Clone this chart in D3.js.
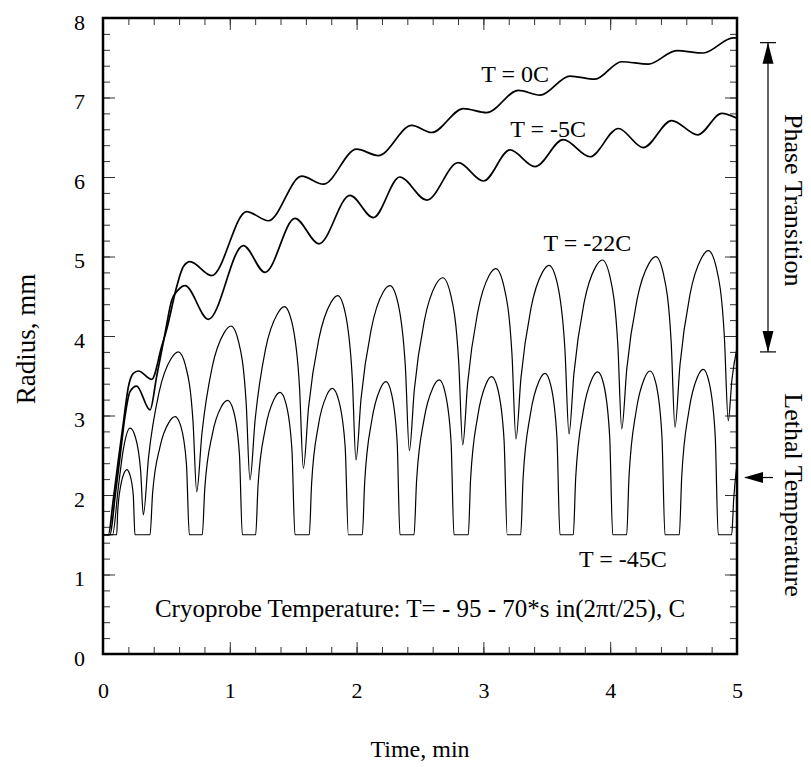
<!DOCTYPE html>
<html>
<head>
<meta charset="utf-8">
<script src="https://cdn.jsdelivr.net/npm/d3@7"></script>
<style>
  body { margin: 0; background: #fff; }
  svg text { font-family: "Liberation Serif", "Times New Roman", serif; fill: #000; }
</style>
</head>
<body>
<svg id="chart" width="811" height="767"></svg>
<script>
// Radio del frente de congelamiento vs tiempo, para 4 temperaturas

// [tiempo (min), radio (mm)]
const curve0C = [
  [0, 1.5], [0.042, 1.5], [0.081, 1.94], [0.121, 2.44], [0.16, 2.9], [0.2, 3.36], [0.239, 3.53], [0.279, 3.56],
  [0.384, 3.455], [0.463, 3.87], [0.502, 4.08], [0.581, 4.62], [0.633, 4.87], [0.686, 4.935], [0.857, 4.76],
  [1.133, 5.565], [1.304, 5.45], [1.567, 6.01], [1.737, 5.91], [2.0, 6.35], [2.171, 6.27], [2.435, 6.65],
  [2.592, 6.56], [2.842, 6.86], [3.026, 6.81], [3.276, 7.09], [3.446, 7.03], [3.683, 7.27], [3.88, 7.23],
  [4.09, 7.45], [4.3, 7.42], [4.524, 7.59], [4.734, 7.56], [4.97, 7.75], [5.0, 7.75]
];

const curve5C = [
  [0, 1.5], [0.055, 1.5], [0.095, 1.98], [0.134, 2.48], [0.173, 2.985], [0.213, 3.3], [0.265, 3.37],
  [0.371, 3.07], [0.423, 3.49], [0.489, 4.03], [0.542, 4.45], [0.594, 4.58], [0.647, 4.633], [0.831, 4.21],
  [1.107, 5.137], [1.278, 4.8], [1.514, 5.48], [1.703, 5.16], [1.948, 5.77], [2.132, 5.49], [2.34, 6.0],
  [2.553, 5.71], [2.802, 6.18], [3.0, 5.95], [3.21, 6.34], [3.407, 6.13], [3.63, 6.47], [3.84, 6.255],
  [4.064, 6.61], [4.261, 6.37], [4.485, 6.71], [4.69, 6.53], [4.879, 6.8], [5.0, 6.74]
];

const curve22C = [
  [0, 1.5], [0.075, 1.5], [0.121, 2.1], [0.16, 2.57], [0.213, 2.84], [0.255, 2.73], [0.297, 2.3], [0.318, 1.75],
  [0.359, 2.47], [0.442, 3.29], [0.539, 3.72], [0.594, 3.8], [0.652, 3.62], [0.71, 2.92], [0.739, 2.04],
  [0.78, 2.77], [0.861, 3.61], [0.955, 4.04], [1.009, 4.126], [1.069, 3.93], [1.129, 3.16], [1.159, 2.19],
  [1.2, 2.95], [1.281, 3.83], [1.376, 4.28], [1.43, 4.37], [1.49, 4.17], [1.55, 3.35], [1.58, 2.336],
  [1.621, 3.1], [1.702, 3.96], [1.797, 4.42], [1.851, 4.507], [1.909, 4.3], [1.966, 3.47], [1.995, 2.44],
  [2.035, 3.21], [2.116, 4.09], [2.209, 4.55], [2.263, 4.633], [2.324, 4.43], [2.385, 3.6], [2.416, 2.557],
  [2.455, 3.32], [2.534, 4.19], [2.626, 4.65], [2.679, 4.733], [2.742, 4.52], [2.805, 3.68], [2.837, 2.629],
  [2.876, 3.41], [2.954, 4.29], [3.045, 4.76], [3.097, 4.847], [3.161, 4.63], [3.225, 3.78], [3.257, 2.704],
  [3.296, 3.47], [3.374, 4.34], [3.465, 4.8], [3.517, 4.889], [3.58, 4.68], [3.643, 3.83], [3.675, 2.767],
  [3.714, 3.53], [3.793, 4.41], [3.885, 4.87], [3.938, 4.956], [3.999, 4.74], [4.06, 3.89], [4.091, 2.83],
  [4.131, 3.59], [4.212, 4.46], [4.305, 4.91], [4.359, 4.998], [4.42, 4.78], [4.481, 3.92], [4.511, 2.85],
  [4.55, 3.63], [4.629, 4.52], [4.72, 4.98], [4.774, 5.073], [4.837, 4.86], [4.9, 4.0], [4.931, 2.935],
  [4.96, 3.45], [5.0, 3.85]
];

const curve45C = [
  [0, 1.5], [0.108, 1.5], [0.116, 1.79], [0.14, 2.12], [0.167, 2.28], [0.187, 2.32], [0.213, 2.25], [0.239, 1.99], [0.252, 1.5],
  [0.371, 1.5], [0.391, 2.02], [0.45, 2.61], [0.519, 2.91], [0.568, 2.985], [0.613, 2.87], [0.658, 2.39], [0.681, 1.5],
  [0.783, 1.5], [0.803, 2.09], [0.863, 2.77], [0.933, 3.11], [0.983, 3.19], [1.029, 3.06], [1.076, 2.51], [1.099, 1.5],
  [1.204, 1.5], [1.223, 2.13], [1.281, 2.84], [1.348, 3.2], [1.396, 3.29], [1.443, 3.15], [1.49, 2.57], [1.514, 1.5],
  [1.627, 1.5], [1.645, 2.14], [1.699, 2.88], [1.763, 3.25], [1.808, 3.34], [1.859, 3.19], [1.91, 2.6], [1.935, 1.5],
  [2.045, 1.5], [2.064, 2.17], [2.12, 2.94], [2.185, 3.33], [2.232, 3.425], [2.276, 3.27], [2.32, 2.66], [2.342, 1.5],
  [2.453, 1.5], [2.473, 2.18], [2.533, 2.96], [2.602, 3.35], [2.652, 3.447], [2.698, 3.29], [2.745, 2.67], [2.768, 1.5],
  [2.881, 1.5], [2.899, 2.2], [2.955, 2.99], [3.019, 3.39], [3.065, 3.488], [3.114, 3.33], [3.163, 2.69], [3.188, 1.5],
  [3.294, 1.5], [3.313, 2.21], [3.371, 3.02], [3.438, 3.43], [3.486, 3.53], [3.533, 3.37], [3.58, 2.72], [3.604, 1.5],
  [3.709, 1.5], [3.728, 2.22], [3.786, 3.04], [3.853, 3.45], [3.901, 3.55], [3.949, 3.39], [3.996, 2.73], [4.02, 1.5],
  [4.13, 1.5], [4.148, 2.22], [4.204, 3.05], [4.268, 3.46], [4.314, 3.56], [4.361, 3.4], [4.408, 2.74], [4.432, 1.5],
  [4.545, 1.5], [4.564, 2.23], [4.621, 3.06], [4.687, 3.48], [4.734, 3.58], [4.781, 3.41], [4.828, 2.75], [4.852, 1.5],
  [4.958, 1.5], [4.974, 1.95], [5.0, 2.4]
];

const xTicks = [0, 1, 2, 3, 4, 5];
const yTicks = [0, 1, 2, 3, 4, 5, 6, 7, 8];

// etiquetas de curvas: [texto, tiempo, radio]
const curveLabels = [
  ["T = 0C", 3.25, 7.2],
  ["T = -5C", 3.51, 6.5],
  ["T = -22C", 3.82, 5.07],
  ["T = -45C", 4.1, 1.1]
];
const formulaText = "Cryoprobe Temperature: T= - 95 - 70*s in(2\u03c0t/25), C";
const phaseRange = [3.8, 7.69];   // flecha "Phase Transition"
const lethalLevel = 2.22;         // flecha "Lethal Temperature"

const width = 811, height = 767;
const margin = { top: 18, right: 74, bottom: 113, left: 103 };
const W = width - margin.left - margin.right;
const H = height - margin.top - margin.bottom;

const svg = d3.select("#chart");
const g = svg.append("g").attr("transform", `translate(${margin.left},${margin.top})`);

const x = d3.scaleLinear().domain([0, 5]).range([0, W]);
const y = d3.scaleLinear().domain([0, 8]).range([H, 0]);

// ticks menores (hacia adentro) en los 4 lados
const minorX = d3.range(0, 5.001, 0.2);
const minorY = d3.range(0, 8.001, 0.2);

function styleTicks(sel) {
  sel.select(".domain").remove();
  sel.selectAll(".tick line").attr("stroke", "#333").attr("stroke-width", 1);
}

g.append("g").attr("transform", `translate(0,${H})`)
  .call(d3.axisBottom(x).tickValues(minorX).tickSize(-7).tickFormat(""))
  .call(styleTicks);
g.append("g")
  .call(d3.axisTop(x).tickValues(minorX).tickSize(-7).tickFormat(""))
  .call(styleTicks);
g.append("g")
  .call(d3.axisLeft(y).tickValues(minorY).tickSize(-7).tickFormat(""))
  .call(styleTicks);
g.append("g").attr("transform", `translate(${W},0)`)
  .call(d3.axisRight(y).tickValues(minorY).tickSize(-7).tickFormat(""))
  .call(styleTicks);

// ticks mayores con etiquetas
const xAxis = g.append("g").attr("transform", `translate(0,${H})`)
  .call(d3.axisBottom(x).tickValues(xTicks).tickSize(-12).tickPadding(28).tickFormat(d3.format("d")))
  .call(styleTicks);
xAxis.selectAll("text").attr("font-size", 22);

const yAxis = g.append("g")
  .call(d3.axisLeft(y).tickValues(yTicks).tickSize(-12).tickPadding(18).tickFormat(d3.format("d")))
  .call(styleTicks);
yAxis.selectAll("text").attr("font-size", 22).attr("dy", "0.5em");

g.append("g")
  .call(d3.axisTop(x).tickValues(xTicks).tickSize(-12).tickFormat(""))
  .call(styleTicks);
g.append("g").attr("transform", `translate(${W},0)`)
  .call(d3.axisRight(y).tickValues(yTicks).tickSize(-12).tickFormat(""))
  .call(styleTicks);

// curvas
g.append("clipPath").attr("id", "clip")
  .append("rect").attr("width", W).attr("height", H);

const line = d3.line()
  .x(d => x(d[0]))
  .y(d => y(d[1]))
  .curve(d3.curveMonotoneX);

const series = [
  { data: curve0C, w: 1.7 },
  { data: curve5C, w: 1.7 },
  { data: curve22C, w: 1.2 },
  { data: curve45C, w: 1.2 }
];

g.append("g").attr("clip-path", "url(#clip)")
  .selectAll("path")
  .data(series)
  .enter().append("path")
  .attr("d", d => line(d.data))
  .attr("fill", "none")
  .attr("stroke", "#000")
  .attr("stroke-width", d => d.w)
  .attr("stroke-linejoin", "round");

// marco
g.append("rect")
  .attr("width", W).attr("height", H)
  .attr("fill", "none").attr("stroke", "#000").attr("stroke-width", 2.5);

// textos dentro del grafico
g.selectAll(".clabel")
  .data(curveLabels)
  .enter().append("text")
  .attr("class", "clabel")
  .attr("x", d => x(d[1]))
  .attr("y", d => y(d[2]))
  .attr("text-anchor", "middle")
  .attr("font-size", 24)
  .text(d => d[0]);

g.append("text")
  .attr("x", x(2.5))
  .attr("y", y(0.46))
  .attr("text-anchor", "middle")
  .attr("font-size", 25)
  .text(formulaText);

// titulos de ejes
svg.append("text")
  .attr("x", margin.left + W / 2)
  .attr("y", 757)
  .attr("text-anchor", "middle")
  .attr("font-size", 24)
  .text("Time, min");

svg.append("text")
  .attr("transform", `translate(35,${margin.top + H / 2 + 3}) rotate(-90)`)
  .attr("text-anchor", "middle")
  .attr("font-size", 27)
  .text("Radius, mm");

// flechas a la derecha
const ax = W + 31; // columna de la flecha vertical
const yTop = y(phaseRange[1]), yBot = y(phaseRange[0]);
const ann = g.append("g").attr("stroke", "#000").attr("fill", "#000");

ann.append("line").attr("x1", ax).attr("x2", ax).attr("y1", yTop).attr("y2", yBot).attr("stroke-width", 1.2);
ann.append("line").attr("x1", ax - 8).attr("x2", ax + 8).attr("y1", yTop).attr("y2", yTop).attr("stroke-width", 1.2);
ann.append("line").attr("x1", ax - 8).attr("x2", ax + 8).attr("y1", yBot).attr("y2", yBot).attr("stroke-width", 1.2);
ann.append("path").attr("stroke", "none")
  .attr("d", `M${ax},${yTop} L${ax - 5.5},${yTop + 21} L${ax + 5.5},${yTop + 21} Z`);
ann.append("path").attr("stroke", "none")
  .attr("d", `M${ax},${yBot} L${ax - 5.5},${yBot - 21} L${ax + 5.5},${yBot - 21} Z`);

const ly = y(lethalLevel);
ann.append("line").attr("x1", W + 8).attr("x2", W + 36).attr("y1", ly).attr("y2", ly).attr("stroke-width", 1.2);
ann.append("path").attr("stroke", "none")
  .attr("d", `M${W + 7},${ly} L${W + 26},${ly - 5.5} L${W + 26},${ly + 5.5} Z`);

svg.append("text")
  .attr("transform", `translate(785,${margin.top + (yTop + yBot) / 2 + 3}) rotate(90)`)
  .attr("text-anchor", "middle")
  .attr("font-size", 26)
  .text("Phase Transition");

svg.append("text")
  .attr("transform", `translate(785,495) rotate(90)`)
  .attr("text-anchor", "middle")
  .attr("font-size", 26)
  .text("Lethal Temperature");
</script>
</body>
</html>
